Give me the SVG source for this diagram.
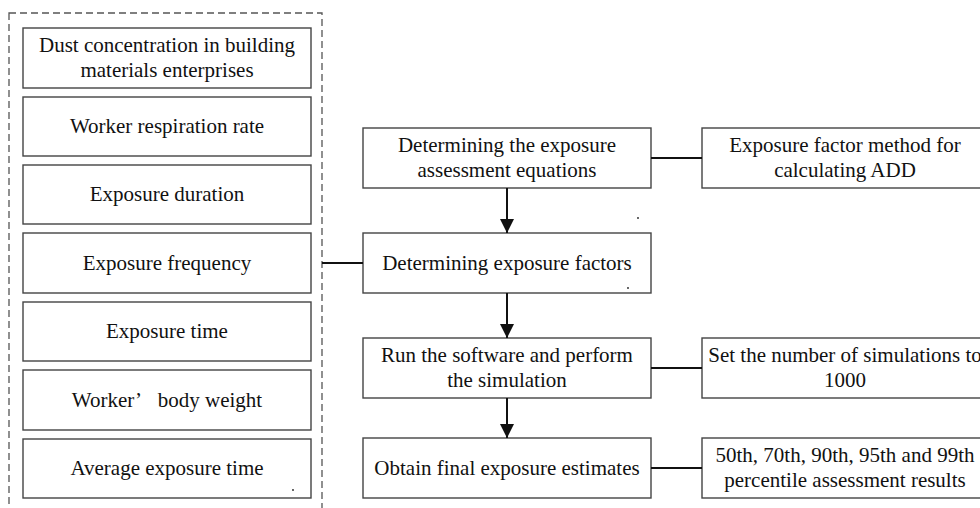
<svg xmlns="http://www.w3.org/2000/svg" width="980" height="508" viewBox="0 0 980 508">
<style>
.box{fill:#fff;stroke:#444;stroke-width:1.4}
.t{font-family:'Liberation Serif','Times New Roman',Times,serif;font-size:21px;fill:#111;text-anchor:middle}
.c{stroke:#111;stroke-width:2;fill:none}
</style>
<defs>
<marker id="ah" viewBox="0 0 10 10" refX="10" refY="5" markerWidth="14" markerHeight="14" markerUnits="userSpaceOnUse" orient="auto">
<path d="M0,0 L10,5 L0,10 z" fill="#111"/>
</marker>
</defs>
<rect width="980" height="508" fill="#fff"/>
<rect id="group-inputs" x="9" y="13" width="313" height="510" fill="none" stroke="#555" stroke-width="1.3" stroke-dasharray="7,4"/>
<g font-family="Liberation Serif, serif">
<g id="n1"><rect class="box" x="23" y="28" width="288" height="60"/><text class="t" x="167" y="52">Dust concentration in building</text><text class="t" x="167" y="77">materials enterprises</text></g>
<g id="n2"><rect class="box" x="23" y="97" width="288" height="59"/><text class="t" x="167" y="133">Worker respiration rate</text></g>
<g id="n3"><rect class="box" x="23" y="165" width="288" height="59"/><text class="t" x="167" y="201">Exposure duration</text></g>
<g id="n4"><rect class="box" x="23" y="233" width="288" height="60"/><text class="t" x="167" y="270">Exposure frequency</text></g>
<g id="n5"><rect class="box" x="23" y="302" width="288" height="59"/><text class="t" x="167" y="338">Exposure time</text></g>
<g id="n6"><rect class="box" x="23" y="370" width="288" height="60"/><text class="t" x="167" y="407">Worker’&#8194; body weight</text></g>
<g id="n7"><rect class="box" x="23" y="439" width="288" height="59"/><text class="t" x="167" y="475">Average exposure time</text></g>
<g id="a"><rect class="box" x="363" y="128" width="288" height="60"/><text class="t" x="507" y="152">Determining the exposure</text><text class="t" x="507" y="177">assessment equations</text></g>
<g id="b"><rect class="box" x="363" y="233" width="288" height="60"/><text class="t" x="507" y="270">Determining exposure factors</text></g>
<g id="c"><rect class="box" x="363" y="338" width="288" height="60"/><text class="t" x="507" y="362">Run the software and perform</text><text class="t" x="507" y="387">the simulation</text></g>
<g id="d"><rect class="box" x="363" y="438" width="288" height="60"/><text class="t" x="507" y="475">Obtain final exposure estimates</text></g>
<g id="ra"><rect class="box" x="702" y="128" width="290" height="60"/><text class="t" x="845" y="152">Exposure factor method for</text><text class="t" x="845" y="177">calculating ADD</text></g>
<g id="rc"><rect class="box" x="702" y="338" width="290" height="60"/><text class="t" x="845" y="362">Set the number of simulations to</text><text class="t" x="845" y="387">1000</text></g>
<g id="rd"><rect class="box" x="702" y="438" width="290" height="60"/><text class="t" x="845" y="462">50th, 70th, 90th, 95th and 99th</text><text class="t" x="845" y="487">percentile assessment results</text></g>
</g>
<g id="connectors">
<line class="c" x1="507" y1="188" x2="507" y2="233" marker-end="url(#ah)"/>
<line class="c" x1="507" y1="293" x2="507" y2="338" marker-end="url(#ah)"/>
<line class="c" x1="507" y1="398" x2="507" y2="438" marker-end="url(#ah)"/>
<line class="c" x1="651" y1="158" x2="702" y2="158"/>
<line class="c" x1="651" y1="368" x2="702" y2="368"/>
<line class="c" x1="651" y1="468" x2="702" y2="468"/>
<line class="c" x1="322" y1="263" x2="363" y2="263"/>
</g>
<g fill="#222"><circle cx="638" cy="218" r="0.9"/><circle cx="628" cy="288" r="0.9"/><circle cx="293" cy="490" r="0.9"/></g>
</svg>
